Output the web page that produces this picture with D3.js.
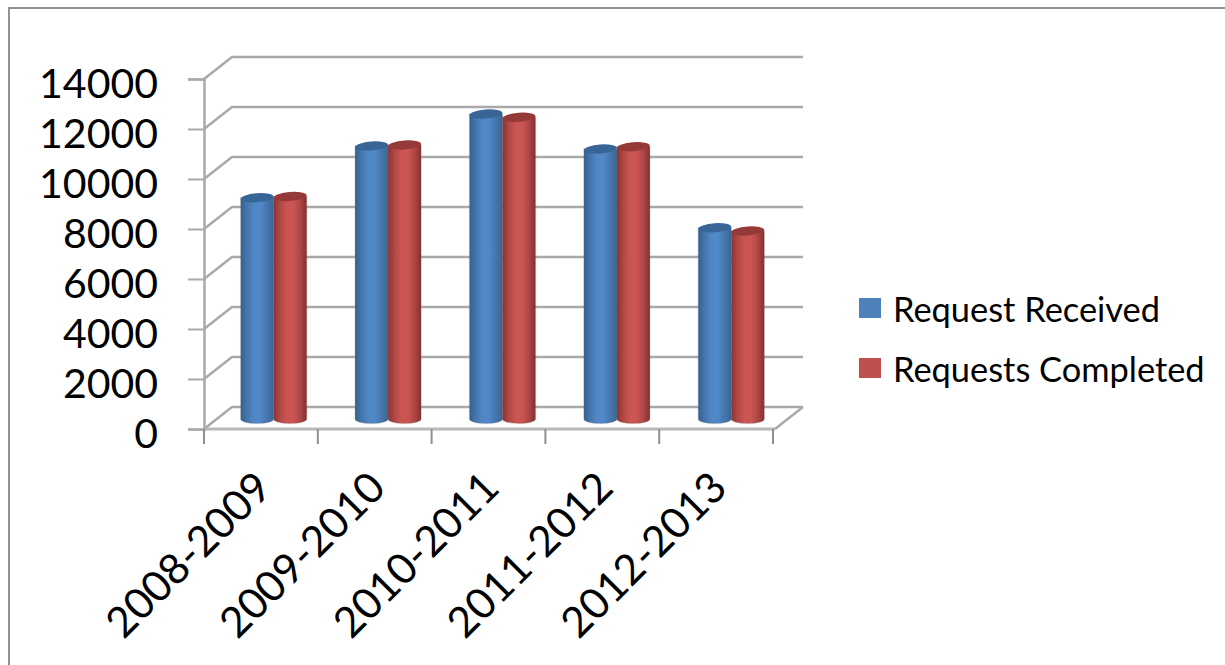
<!DOCTYPE html>
<html>
<head>
<meta charset="utf-8">
<script src="https://cdn.jsdelivr.net/npm/d3@7/dist/d3.min.js"></script>
<style>
  html, body { margin: 0; padding: 0; background: #fff; }
  svg { display: block; }
  svg text { fill: #000; font-family: Lato, "Open Sans", sans-serif; }
</style>
</head>
<body>
<svg id="chart" width="1225" height="665"></svg>
<script>
// Annual request counts
const periods = ["2008-2009", "2009-2010", "2010-2011", "2011-2012", "2012-2013"];
const seriesNames = ["Request Received", "Requests Completed"];
const requestReceived = [8850, 10920, 12200, 10800, 7650];
const requestsCompleted = [8900, 10960, 12070, 10890, 7520];
const valueTicks = [0, 2000, 4000, 6000, 8000, 10000, 12000, 14000];
const seriesColors = ["#4f81bd", "#c0504d"];

const svg = d3.select("#chart");
const gridColor = "#a9a9a9";

// Frame: only the top and left edges fall inside the canvas
svg.append("path")
  .attr("d", "M9,665V8H1225")
  .attr("fill", "none")
  .attr("stroke", "#919191")
  .attr("stroke-width", 2);

// Scales for the front plane of the 3-D box
const x = d3.scaleBand().domain(periods).range([204, 773]);
const y = d3.scaleLinear().domain([0, 14000]).range([429, 79]);
const depthX = 28, depthY = -22;        // front plane to back wall
const midY = -10;                       // front plane to the plane holding the columns
const barWidth = 33;
// Columns stand half way back, where the perspective widens the bands a little
const xMid = d3.scaleBand().domain(periods).range([216.5, 788.5]);
const inner = d3.scaleBand().domain(seriesNames).range([-barWidth, barWidth]);

// Shading across each cylinder
const defs = svg.append("defs");
const shades = [
  { id: "cyl0", stops: ["#34628f", "#4576ad", "#5287c6", "#5088c8", "#4575ab", "#386899"], top: "#386496" },
  { id: "cyl1", stops: ["#8c3331", "#b14947", "#cb5552", "#cb5552", "#ad4745", "#843130"], top: "#953a38" }
];
shades.forEach(s => {
  const g = defs.append("linearGradient").attr("id", s.id);
  s.stops.forEach((c, i) => g.append("stop").attr("offset", i / (s.stops.length - 1)).attr("stop-color", c));
});

// Back wall gridlines plus the diagonal side wall lines
const walls = svg.append("g").attr("fill", "none").attr("stroke", gridColor).attr("stroke-width", 2.5);
walls.selectAll("path.grid").data(valueTicks).join("path")
  .attr("class", "grid")
  .attr("d", d => `M${x.range()[0]},${y(d)}L${x.range()[0] + depthX},${y(d) + depthY}H${x.range()[1] + depthX + 2}`);

// Floor edges on the right and along the front
walls.append("path")
  .attr("d", `M${x.range()[1] + depthX + 2},${y(0) + depthY}L${x.range()[1] + 2},${y(0)}`);
walls.append("path")
  .attr("d", `M${x.range()[0]},${y(0)}H${x.range()[1] + 2}`)
  .attr("stroke", "#b8b8b8").attr("stroke-width", 3);

// Value axis
const yAxis = d3.axisLeft(y).tickValues(valueTicks).tickSize(16).tickPadding(30).tickFormat(d3.format("d"));
const yG = svg.append("g").attr("transform", "translate(204,0)").call(yAxis);
yG.select(".domain").attr("stroke", gridColor).attr("stroke-width", 2.5);
yG.selectAll(".tick line").attr("stroke", gridColor).attr("stroke-width", 2);
yG.selectAll(".tick text")
  .attr("font-size", 41)
  .attr("dy", "0.44em");

// Category axis: tick marks sit on the band boundaries
const boundaries = periods.map(p => x(p)).concat(x.range()[1]);
svg.append("g").selectAll("line").data(boundaries).join("line")
  .attr("x1", d => d).attr("x2", d => d)
  .attr("y1", y(0)).attr("y2", y(0) + 15)
  .attr("stroke", "#8f8f8f").attr("stroke-width", 2);

const xAxis = d3.axisBottom(x).tickSize(0).tickPadding(0);
const xG = svg.append("g").attr("transform", `translate(0,${y(0)})`).call(xAxis);
xG.select(".domain").remove();
xG.selectAll(".tick text")
  .attr("font-size", 42.4)
  .attr("text-anchor", "end")
  .attr("dy", 0)
  .attr("y", 0)
  .attr("transform", "translate(13,61) rotate(-45)");

// Cylinders
const rows = periods.map((p, i) => [
  { period: p, name: seriesNames[0], value: requestReceived[i], k: 0 },
  { period: p, name: seriesNames[1], value: requestsCompleted[i], k: 1 }
]);
const rx = barWidth / 2, ry = 4.5, tilt = -4;
const groups = svg.append("g").selectAll("g").data(rows).join("g")
  .attr("transform", d => `translate(${xMid(d[0].period) + xMid.bandwidth() / 2},0)`);
const cyl = groups.selectAll("g").data(d => d).join("g")
  .attr("transform", d => `translate(${inner(d.name) + rx},0)`);

cyl.append("path")
  .attr("fill", d => `url(#cyl${d.k})`)
  .attr("stroke", "rgba(90,90,90,0.16)")
  .attr("stroke-width", 1.5)
  .attr("d", d => {
    const top = y(d.value) + midY, base = y(0) + midY;
    return `M${-rx},${top}V${base}A${rx},${ry} 0 0 0 ${rx},${base}V${top}Z`;
  });
cyl.append("ellipse")
  .attr("rx", rx).attr("ry", ry)
  .attr("fill", d => shades[d.k].top)
  .attr("transform", d => `translate(0,${y(d.value) + midY}) rotate(${tilt})`);

// Legend
const legend = svg.append("g").selectAll("g").data(seriesNames).join("g")
  .attr("transform", (d, i) => `translate(859,${298 + i * 60})`);
legend.append("rect")
  .attr("width", 22).attr("height", 20)
  .attr("fill", (d, i) => seriesColors[i]);
legend.append("text")
  .attr("x", 34).attr("y", 24)
  .attr("font-size", 34.4)
  .text(d => d);
</script>
</body>
</html>
